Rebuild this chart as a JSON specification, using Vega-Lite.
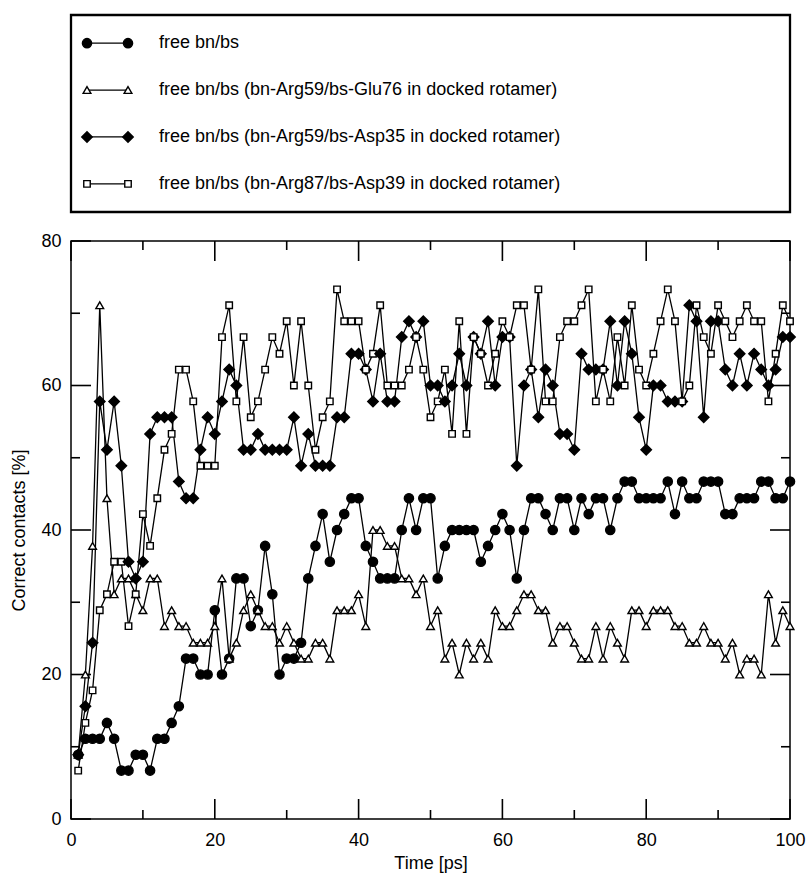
{
  "$schema": "https://vega.github.io/schema/vega-lite/v6.json",
  "padding": {"left": 10, "top": 13, "right": 10, "bottom": 0},
  "spacing": 17,
  "config": {
    "font": "Liberation Sans",
    "view": {"stroke": "black", "strokeWidth": 1.5},
    "axis": {"grid": false, "labelColor": "black", "titleColor": "black", "labelFont": "Liberation Sans", "titleFont": "Liberation Sans", "labelFontSize": 18, "titleFontSize": 18, "titleFontWeight": "normal"}
  },
  "datasets": {
    "legend": [
      {"label": "free bn/bs", "key": "A"},
      {"label": "free bn/bs (bn-Arg59/bs-Glu76 in docked rotamer)", "key": "B"},
      {"label": "free bn/bs (bn-Arg59/bs-Asp35 in docked rotamer)", "key": "C"},
      {"label": "free bn/bs (bn-Arg87/bs-Asp39 in docked rotamer)", "key": "D"}
    ],
    "xmaj": [{"v": 0}, {"v": 20}, {"v": 40}, {"v": 60}, {"v": 80}, {"v": 100}],
    "xmin": [{"v": 10}, {"v": 30}, {"v": 50}, {"v": 70}, {"v": 90}],
    "ymaj": [{"w": 0}, {"w": 20}, {"w": 40}, {"w": 60}, {"w": 80}],
    "ymin": [{"w": 10}, {"w": 30}, {"w": 50}, {"w": 70}],
    "series": [
      {"t":1,"A":8.9,"B":8.9,"C":8.9,"D":6.7},
      {"t":2,"A":11.1,"B":20,"C":15.6,"D":13.3},
      {"t":3,"A":11.1,"B":37.8,"C":24.4,"D":17.8},
      {"t":4,"A":11.1,"B":71.1,"C":57.8,"D":28.9},
      {"t":5,"A":13.3,"B":44.4,"C":51.1,"D":31.1},
      {"t":6,"A":11.1,"B":31.1,"C":57.8,"D":35.6},
      {"t":7,"A":6.7,"B":33.3,"C":48.9,"D":35.6},
      {"t":8,"A":6.7,"B":33.3,"C":35.6,"D":26.7},
      {"t":9,"A":8.9,"B":31.1,"C":33.3,"D":31.1},
      {"t":10,"A":8.9,"B":28.9,"C":35.6,"D":42.2},
      {"t":11,"A":6.7,"B":33.3,"C":53.3,"D":37.8},
      {"t":12,"A":11.1,"B":33.3,"C":55.6,"D":44.4},
      {"t":13,"A":11.1,"B":26.7,"C":55.6,"D":51.1},
      {"t":14,"A":13.3,"B":28.9,"C":55.6,"D":53.3},
      {"t":15,"A":15.6,"B":26.7,"C":46.7,"D":62.2},
      {"t":16,"A":22.2,"B":26.7,"C":44.4,"D":62.2},
      {"t":17,"A":22.2,"B":24.4,"C":44.4,"D":57.8},
      {"t":18,"A":20,"B":24.4,"C":51.1,"D":48.9},
      {"t":19,"A":20,"B":24.4,"C":55.6,"D":48.9},
      {"t":20,"A":28.9,"B":26.7,"C":53.3,"D":48.9},
      {"t":21,"A":20,"B":33.3,"C":57.8,"D":66.7},
      {"t":22,"A":22.2,"B":22.2,"C":62.2,"D":71.1},
      {"t":23,"A":33.3,"B":24.4,"C":60,"D":57.8},
      {"t":24,"A":33.3,"B":28.9,"C":51.1,"D":66.7},
      {"t":25,"A":26.7,"B":31.1,"C":51.1,"D":55.6},
      {"t":26,"A":28.9,"B":28.9,"C":53.3,"D":57.8},
      {"t":27,"A":37.8,"B":26.7,"C":51.1,"D":62.2},
      {"t":28,"A":31.1,"B":26.7,"C":51.1,"D":66.7},
      {"t":29,"A":20,"B":24.4,"C":51.1,"D":64.4},
      {"t":30,"A":22.2,"B":26.7,"C":51.1,"D":68.9},
      {"t":31,"A":22.2,"B":24.4,"C":55.6,"D":60},
      {"t":32,"A":24.4,"B":22.2,"C":48.9,"D":68.9},
      {"t":33,"A":33.3,"B":22.2,"C":53.3,"D":60},
      {"t":34,"A":37.8,"B":24.4,"C":48.9,"D":51.1},
      {"t":35,"A":42.2,"B":24.4,"C":48.9,"D":55.6},
      {"t":36,"A":35.6,"B":22.2,"C":48.9,"D":57.8},
      {"t":37,"A":40,"B":28.9,"C":55.6,"D":73.3},
      {"t":38,"A":42.2,"B":28.9,"C":55.6,"D":68.9},
      {"t":39,"A":44.4,"B":28.9,"C":64.4,"D":68.9},
      {"t":40,"A":44.4,"B":31.1,"C":64.4,"D":68.9},
      {"t":41,"A":37.8,"B":26.7,"C":62.2,"D":62.2},
      {"t":42,"A":35.6,"B":40,"C":57.8,"D":64.4},
      {"t":43,"A":33.3,"B":40,"C":64.4,"D":71.1},
      {"t":44,"A":33.3,"B":37.8,"C":57.8,"D":60},
      {"t":45,"A":33.3,"B":37.8,"C":57.8,"D":60},
      {"t":46,"A":40,"B":33.3,"C":66.7,"D":60},
      {"t":47,"A":44.4,"B":33.3,"C":68.9,"D":62.2},
      {"t":48,"A":40,"B":31.1,"C":66.7,"D":66.7},
      {"t":49,"A":44.4,"B":33.3,"C":68.9,"D":62.2},
      {"t":50,"A":44.4,"B":26.7,"C":60,"D":55.6},
      {"t":51,"A":33.3,"B":28.9,"C":60,"D":57.8},
      {"t":52,"A":37.8,"B":22.2,"C":57.8,"D":62.2},
      {"t":53,"A":40,"B":24.4,"C":60,"D":53.3},
      {"t":54,"A":40,"B":20,"C":64.4,"D":68.9},
      {"t":55,"A":40,"B":24.4,"C":60,"D":53.3},
      {"t":56,"A":40,"B":22.2,"C":66.7,"D":66.7},
      {"t":57,"A":35.6,"B":24.4,"C":64.4,"D":64.4},
      {"t":58,"A":37.8,"B":22.2,"C":68.9,"D":60},
      {"t":59,"A":40,"B":28.9,"C":60,"D":64.4},
      {"t":60,"A":42.2,"B":26.7,"C":66.7,"D":68.9},
      {"t":61,"A":40,"B":26.7,"C":66.7,"D":66.7},
      {"t":62,"A":33.3,"B":28.9,"C":48.9,"D":71.1},
      {"t":63,"A":40,"B":31.1,"C":60,"D":71.1},
      {"t":64,"A":44.4,"B":31.1,"C":62.2,"D":62.2},
      {"t":65,"A":44.4,"B":28.9,"C":55.6,"D":73.3},
      {"t":66,"A":42.2,"B":28.9,"C":62.2,"D":57.8},
      {"t":67,"A":40,"B":24.4,"C":60,"D":57.8},
      {"t":68,"A":44.4,"B":26.7,"C":53.3,"D":66.7},
      {"t":69,"A":44.4,"B":26.7,"C":53.3,"D":68.9},
      {"t":70,"A":40,"B":24.4,"C":51.1,"D":68.9},
      {"t":71,"A":44.4,"B":22.2,"C":64.4,"D":71.1},
      {"t":72,"A":42.2,"B":22.2,"C":62.2,"D":73.3},
      {"t":73,"A":44.4,"B":26.7,"C":62.2,"D":57.8},
      {"t":74,"A":44.4,"B":22.2,"C":62.2,"D":62.2},
      {"t":75,"A":40,"B":26.7,"C":68.9,"D":57.8},
      {"t":76,"A":44.4,"B":24.4,"C":60,"D":66.7},
      {"t":77,"A":46.7,"B":22.2,"C":68.9,"D":60},
      {"t":78,"A":46.7,"B":28.9,"C":64.4,"D":71.1},
      {"t":79,"A":44.4,"B":28.9,"C":55.6,"D":62.2},
      {"t":80,"A":44.4,"B":26.7,"C":51.1,"D":60},
      {"t":81,"A":44.4,"B":28.9,"C":60,"D":64.4},
      {"t":82,"A":44.4,"B":28.9,"C":60,"D":68.9},
      {"t":83,"A":46.7,"B":28.9,"C":57.8,"D":73.3},
      {"t":84,"A":42.2,"B":26.7,"C":57.8,"D":68.9},
      {"t":85,"A":46.7,"B":26.7,"C":57.8,"D":57.8},
      {"t":86,"A":44.4,"B":24.4,"C":71.1,"D":60},
      {"t":87,"A":44.4,"B":24.4,"C":68.9,"D":71.1},
      {"t":88,"A":46.7,"B":26.7,"C":55.6,"D":66.7},
      {"t":89,"A":46.7,"B":24.4,"C":68.9,"D":64.4},
      {"t":90,"A":46.7,"B":24.4,"C":68.9,"D":71.1},
      {"t":91,"A":42.2,"B":22.2,"C":62.2,"D":68.9},
      {"t":92,"A":42.2,"B":24.4,"C":60,"D":66.7},
      {"t":93,"A":44.4,"B":20,"C":64.4,"D":68.9},
      {"t":94,"A":44.4,"B":22.2,"C":60,"D":71.1},
      {"t":95,"A":44.4,"B":22.2,"C":64.4,"D":68.9},
      {"t":96,"A":46.7,"B":20,"C":62.2,"D":68.9},
      {"t":97,"A":46.7,"B":31.1,"C":60,"D":57.8},
      {"t":98,"A":44.4,"B":24.4,"C":62.2,"D":64.4},
      {"t":99,"A":44.4,"B":28.9,"C":66.7,"D":71.1},
      {"t":100,"A":46.7,"B":26.7,"C":66.7,"D":68.9}
    ]
  },
  "vconcat": [
    {
      "width": 719,
      "height": 197,
      "view": {"stroke": "black", "strokeWidth": 2.3},
      "data": {"name": "legend"},
      "encoding": {
        "y": {"field": "label", "type": "nominal", "sort": null, "scale": {"type": "point", "padding": 0.6}, "axis": null}
      },
      "layer": [
        {
          "mark": {"type": "rule", "color": "black", "strokeWidth": 1.3},
          "encoding": {
            "x": {"datum": 16, "type": "quantitative", "scale": {"domain": [0, 719], "nice": false, "zero": false}, "axis": null},
            "x2": {"datum": 57}
          }
        },
        {
          "mark": {"type": "point", "filled": true, "stroke": "black", "strokeWidth": 1.4, "opacity": 1},
          "encoding": {
            "x": {"datum": 16, "type": "quantitative"},
            "shape": {"field": "key", "type": "nominal", "scale": {"domain": ["A", "B", "C", "D"], "range": ["circle", "triangle-up", "diamond", "square"]}, "legend": null},
            "fill": {"field": "key", "type": "nominal", "scale": {"domain": ["A", "B", "C", "D"], "range": ["black", "white", "black", "white"]}, "legend": null},
            "size": {"field": "key", "type": "nominal", "scale": {"type": "ordinal", "domain": ["A", "B", "C", "D"], "range": [85, 60, 110, 42]}, "legend": null}
          }
        },
        {
          "mark": {"type": "point", "filled": true, "stroke": "black", "strokeWidth": 1.4, "opacity": 1},
          "encoding": {
            "x": {"datum": 57, "type": "quantitative"},
            "shape": {"field": "key", "type": "nominal", "scale": {"domain": ["A", "B", "C", "D"], "range": ["circle", "triangle-up", "diamond", "square"]}, "legend": null},
            "fill": {"field": "key", "type": "nominal", "scale": {"domain": ["A", "B", "C", "D"], "range": ["black", "white", "black", "white"]}, "legend": null},
            "size": {"field": "key", "type": "nominal", "scale": {"type": "ordinal", "domain": ["A", "B", "C", "D"], "range": [85, 60, 110, 42]}, "legend": null}
          }
        },
        {
          "mark": {"type": "text", "align": "left", "baseline": "middle", "fontSize": 18, "font": "Liberation Sans", "color": "black"},
          "encoding": {
            "x": {"datum": 88, "type": "quantitative"},
            "text": {"field": "label"}
          }
        }
      ]
    },
    {
      "width": 719,
      "height": 578,
      "layer": [
        {
          "data": {"name": "series"},
          "transform": [{"fold": ["A", "B", "C", "D"], "as": ["key", "v"]}],
          "mark": {"type": "line", "color": "black", "strokeWidth": 1.3},
          "encoding": {
            "x": {"field": "t", "type": "quantitative", "title": "Time [ps]", "scale": {"domain": [0, 100], "nice": false},
              "axis": {"values": [0, 20, 40, 60, 80, 100], "ticks": false, "domain": false, "labelPadding": 12, "labelFlush": false, "labelOverlap": false, "titlePadding": 5}},
            "y": {"field": "v", "type": "quantitative", "title": "Correct contacts [%]", "scale": {"domain": [0, 80], "nice": false},
              "axis": {"values": [0, 20, 40, 60, 80], "ticks": false, "domain": false, "labelPadding": 10, "labelOverlap": false, "labelFlush": false, "titlePadding": 12}},
            "detail": {"field": "key", "type": "nominal"}
          }
        },
        {
          "data": {"name": "xmaj"},
          "mark": {"type": "rule", "color": "black", "strokeWidth": 1.6},
          "encoding": {"x": {"field": "v", "type": "quantitative"}, "y": {"datum": 0, "type": "quantitative"}, "y2": {"datum": 2.77}}
        },
        {
          "data": {"name": "xmaj"},
          "mark": {"type": "rule", "color": "black", "strokeWidth": 1.6},
          "encoding": {"x": {"field": "v", "type": "quantitative"}, "y": {"datum": 80, "type": "quantitative"}, "y2": {"datum": 77.23}}
        },
        {
          "data": {"name": "xmin"},
          "mark": {"type": "rule", "color": "black", "strokeWidth": 1.6},
          "encoding": {"x": {"field": "v", "type": "quantitative"}, "y": {"datum": 0, "type": "quantitative"}, "y2": {"datum": 1.25}}
        },
        {
          "data": {"name": "xmin"},
          "mark": {"type": "rule", "color": "black", "strokeWidth": 1.6},
          "encoding": {"x": {"field": "v", "type": "quantitative"}, "y": {"datum": 80, "type": "quantitative"}, "y2": {"datum": 78.75}}
        },
        {
          "data": {"name": "ymaj"},
          "mark": {"type": "rule", "color": "black", "strokeWidth": 1.6},
          "encoding": {"y": {"field": "w", "type": "quantitative"}, "x": {"datum": 0, "type": "quantitative"}, "x2": {"datum": 2.78}}
        },
        {
          "data": {"name": "ymaj"},
          "mark": {"type": "rule", "color": "black", "strokeWidth": 1.6},
          "encoding": {"y": {"field": "w", "type": "quantitative"}, "x": {"datum": 100, "type": "quantitative"}, "x2": {"datum": 97.22}}
        },
        {
          "data": {"name": "ymin"},
          "mark": {"type": "rule", "color": "black", "strokeWidth": 1.6},
          "encoding": {"y": {"field": "w", "type": "quantitative"}, "x": {"datum": 0, "type": "quantitative"}, "x2": {"datum": 1.25}}
        },
        {
          "data": {"name": "ymin"},
          "mark": {"type": "rule", "color": "black", "strokeWidth": 1.6},
          "encoding": {"y": {"field": "w", "type": "quantitative"}, "x": {"datum": 100, "type": "quantitative"}, "x2": {"datum": 98.75}}
        },
        {
          "data": {"name": "series"},
          "transform": [{"fold": ["A", "B", "C", "D"], "as": ["key", "v"]}],
          "mark": {"type": "point", "filled": true, "stroke": "black", "strokeWidth": 1.4, "opacity": 1},
          "encoding": {
            "x": {"field": "t", "type": "quantitative"},
            "y": {"field": "v", "type": "quantitative"},
            "shape": {"field": "key", "type": "nominal", "scale": {"domain": ["A", "B", "C", "D"], "range": ["circle", "triangle-up", "diamond", "square"]}, "legend": null},
            "fill": {"field": "key", "type": "nominal", "scale": {"domain": ["A", "B", "C", "D"], "range": ["black", "white", "black", "white"]}, "legend": null},
            "size": {"field": "key", "type": "nominal", "scale": {"type": "ordinal", "domain": ["A", "B", "C", "D"], "range": [85, 60, 110, 42]}, "legend": null}
          }
        }
      ]
    }
  ]
}
